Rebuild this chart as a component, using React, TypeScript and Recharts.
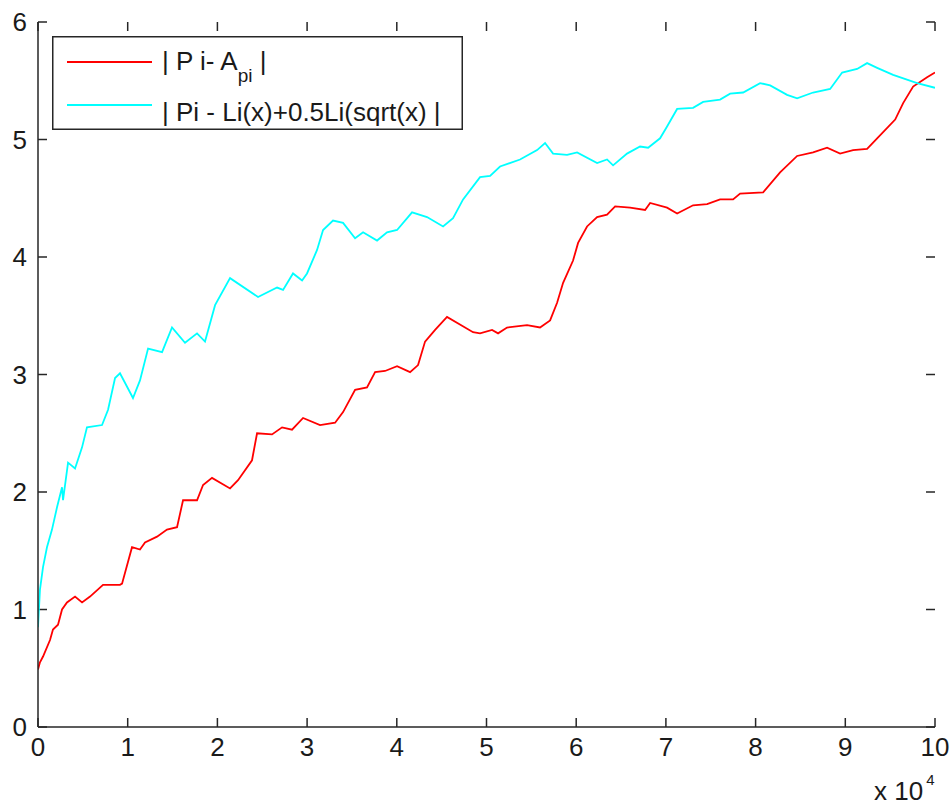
import React from 'react';
import { LineChart, Line, XAxis, YAxis, Legend, ReferenceLine } from 'recharts';

const xTicks = [0, 10000, 20000, 30000, 40000, 50000, 60000, 70000, 80000, 90000, 100000];
const yTicks = [0, 1, 2, 3, 4, 5, 6];

const redX = [0, 220, 560, 1340, 1670, 2230, 2680, 3230, 4130, 4910, 5800, 7250, 9140, 9370, 10480, 11370, 11930, 13270, 14380, 15500, 16170, 17730, 18400, 19400, 21410, 22300, 23860, 24420, 26090, 27210, 28320, 29550, 31440, 33120, 34010, 35350, 36680, 37580, 38690, 40030, 41480, 42370, 43150, 44270, 45600, 48500, 49280, 50620, 51290, 52290, 54520, 55970, 57090, 57870, 58540, 59650, 60210, 61210, 62330, 63440, 64340, 66010, 67680, 68240, 70130, 71250, 73030, 74590, 76040, 77490, 78270, 80840, 82730, 84630, 86410, 87970, 89420, 90870, 92430, 93550, 95560, 96450, 97560, 99120, 100000];
const redY = [0.49, 0.55, 0.6, 0.74, 0.83, 0.87, 1.0, 1.06, 1.11, 1.06, 1.11, 1.21, 1.21, 1.22, 1.53, 1.51, 1.57, 1.62, 1.68, 1.7, 1.93, 1.93, 2.06, 2.12, 2.03, 2.1, 2.27, 2.5, 2.49, 2.55, 2.53, 2.63, 2.57, 2.59, 2.68, 2.87, 2.89, 3.02, 3.03, 3.07, 3.02, 3.08, 3.28, 3.38, 3.49, 3.36, 3.35, 3.38, 3.35, 3.4, 3.42, 3.4, 3.46, 3.61, 3.78, 3.97, 4.12, 4.26, 4.34, 4.36, 4.43, 4.42, 4.4, 4.46, 4.42, 4.37, 4.44, 4.45, 4.49, 4.49, 4.54, 4.55, 4.72, 4.86, 4.89, 4.93, 4.88, 4.91, 4.92, 5.01, 5.17, 5.31, 5.45, 5.53, 5.57];

const cyanX = [0, 220, 560, 1000, 1560, 2120, 2680, 2790, 3350, 4130, 4910, 5460, 7140, 7810, 8590, 9140, 10590, 11370, 12270, 13830, 14940, 16390, 17730, 18620, 19740, 21410, 24530, 26650, 27320, 28430, 29440, 29990, 31110, 31780, 32890, 34010, 35350, 36240, 37800, 38910, 40030, 41700, 43370, 45160, 46270, 47390, 49280, 50400, 51510, 53740, 55640, 56530, 57420, 58980, 60100, 62330, 63440, 64110, 65670, 67120, 68020, 69350, 70130, 71250, 73030, 74150, 76040, 77160, 78610, 80500, 81620, 83510, 84630, 86410, 88310, 89650, 91320, 92430, 93550, 95330, 98010, 100000];
const cyanY = [0.85, 1.17, 1.36, 1.53, 1.68, 1.87, 2.04, 1.93, 2.25, 2.2, 2.38, 2.55, 2.57, 2.7, 2.97, 3.01, 2.8, 2.95, 3.22, 3.19, 3.4, 3.27, 3.35, 3.28, 3.59, 3.82, 3.66, 3.74, 3.72, 3.86, 3.8, 3.86, 4.06, 4.23, 4.31, 4.29, 4.16, 4.21, 4.14, 4.21, 4.23, 4.38, 4.34, 4.26, 4.33, 4.49, 4.68, 4.69, 4.77, 4.83, 4.91, 4.97, 4.88, 4.87, 4.89, 4.8, 4.83, 4.78, 4.88, 4.94, 4.93, 5.01, 5.11, 5.26, 5.27, 5.32, 5.34, 5.39, 5.4, 5.48, 5.46, 5.38, 5.35, 5.4, 5.43, 5.57, 5.6, 5.65, 5.61, 5.55, 5.48, 5.44];

const redName = '| P i- A';
const redSub = 'pi';
const cyanName = '| Pi - Li(x)+0.5Li(sqrt(x) |';
const redColor = '#ff0000';
const cyanColor = '#00ffff';

const redData = redX.map((x, i) => ({ x, y: redY[i] }));
const cyanData = cyanX.map((x, i) => ({ x, y: cyanY[i] }));

const FONT = '"Liberation Sans", Arial, sans-serif';
const AXIS = '#262626';
const TEXT = '#1a1a1a';
const FS = 26;

const X_MIN = 0;
const X_MAX = 100000;
const Y_MIN = 0;
const Y_MAX = 6;
// inward tick length (9 px) expressed in axis units of a 897 x 705 px plot area
const TICK_DX = ((X_MAX - X_MIN) * 9) / 897;
const TICK_DY = ((Y_MAX - Y_MIN) * 9) / 705;

const renderLegend = () => (
  <svg width={411} height={94} style={{ display: 'block' }}>
    <rect x={0.75} y={0.75} width={409.5} height={92.5} fill="#fff" stroke={AXIS} strokeWidth={1.5} />
    <line x1={15} x2={100} y1={26} y2={26} stroke={redColor} strokeWidth={2} />
    <text x={110} y={34} fontFamily={FONT} fontSize={FS} fill={TEXT}>
      {redName}
      <tspan dy={12} fontSize={19}>{redSub}</tspan>
      <tspan dy={-12}> |</tspan>
    </text>
    <line x1={15} x2={100} y1={69} y2={69} stroke={cyanColor} strokeWidth={2} />
    <text x={110} y={85} fontFamily={FONT} fontSize={FS} fill={TEXT}>
      {cyanName}
    </text>
  </svg>
);

const ExpLabel = (props: any) => {
  const vb = props.viewBox || { x: 38, y: 727, width: 897, height: 30 };
  const right = vb.x + vb.width;
  return (
    <text x={right - 61} y={vb.y + 73} fill={TEXT} fontFamily={FONT} fontSize={FS}>
      x 10
      <tspan dx={3} dy={-15} fontSize={15}>4</tspan>
    </text>
  );
};

const BottomLabel = (p: any) => (
  <text x={p.x} y={p.y + 11} dy="0.71em" textAnchor="middle" fill={TEXT} fontFamily={FONT} fontSize={FS}>
    {String(p.payload.value / 10000)}
  </text>
);
const LeftLabel = (p: any) => (
  <text x={p.x - 11} y={p.y} dy="0.355em" textAnchor="end" fill={TEXT} fontFamily={FONT} fontSize={FS}>
    {String(p.payload.value)}
  </text>
);

const tickSeg = (k: string, a: { x: number; y: number }, b: { x: number; y: number }) => (
  <ReferenceLine
    key={k}
    xAxisId="b"
    yAxisId="l"
    segment={[a, b]}
    stroke={AXIS}
    strokeWidth={1.5}
    ifOverflow="visible"
  />
);

export default function App() {
  return (
    <div style={{ position: 'absolute', left: 0, top: 0, width: 952, height: 807, background: '#fff' }}>
      <LineChart width={952} height={807} margin={{ top: 22, right: 17, bottom: 50, left: 8 }}>
        <XAxis
          xAxisId="b"
          dataKey="x"
          type="number"
          domain={[X_MIN, X_MAX]}
          ticks={xTicks}
          interval={0}
          height={30}
          tickLine={false}
          tickSize={0}
          tickMargin={0}
          stroke={AXIS}
          strokeWidth={1.5}
          tick={<BottomLabel />}
          allowDataOverflow
          label={<ExpLabel />}
        />
        <XAxis
          xAxisId="t"
          orientation="top"
          type="number"
          domain={[X_MIN, X_MAX]}
          ticks={xTicks}
          height={0}
          tick={false}
          tickLine={false}
          stroke={AXIS}
          strokeWidth={1.5}
          allowDataOverflow
        />
        <YAxis
          yAxisId="l"
          type="number"
          domain={[Y_MIN, Y_MAX]}
          ticks={yTicks}
          interval={0}
          width={30}
          tickLine={false}
          tickSize={0}
          tickMargin={0}
          stroke={AXIS}
          strokeWidth={1.5}
          tick={<LeftLabel />}
          allowDataOverflow
        />
        <YAxis
          yAxisId="r"
          orientation="right"
          type="number"
          domain={[Y_MIN, Y_MAX]}
          ticks={yTicks}
          width={0}
          tick={false}
          tickLine={false}
          stroke={AXIS}
          strokeWidth={1.5}
          allowDataOverflow
        />
        {xTicks.map((t) => tickSeg(`b${t}`, { x: t, y: Y_MIN }, { x: t, y: Y_MIN + TICK_DY }))}
        {xTicks.map((t) => tickSeg(`t${t}`, { x: t, y: Y_MAX }, { x: t, y: Y_MAX - TICK_DY }))}
        {yTicks.map((t) => tickSeg(`l${t}`, { x: X_MIN, y: t }, { x: X_MIN + TICK_DX, y: t }))}
        {yTicks.map((t) => tickSeg(`r${t}`, { x: X_MAX, y: t }, { x: X_MAX - TICK_DX, y: t }))}
        <Legend
          content={renderLegend}
          layout="horizontal"
          verticalAlign="middle"
          align="center"
          wrapperStyle={{ left: 52, top: 36, width: 411, height: 94 }}
        />
        <Line
          xAxisId="b"
          yAxisId="l"
          data={redData}
          dataKey="y"
          name={redName}
          type="linear"
          stroke={redColor}
          strokeWidth={1.8}
          dot={false}
          activeDot={false}
          isAnimationActive={false}
        />
        <Line
          xAxisId="b"
          yAxisId="l"
          data={cyanData}
          dataKey="y"
          name={cyanName}
          type="linear"
          stroke={cyanColor}
          strokeWidth={1.8}
          dot={false}
          activeDot={false}
          isAnimationActive={false}
        />
      </LineChart>
    </div>
  );
}
